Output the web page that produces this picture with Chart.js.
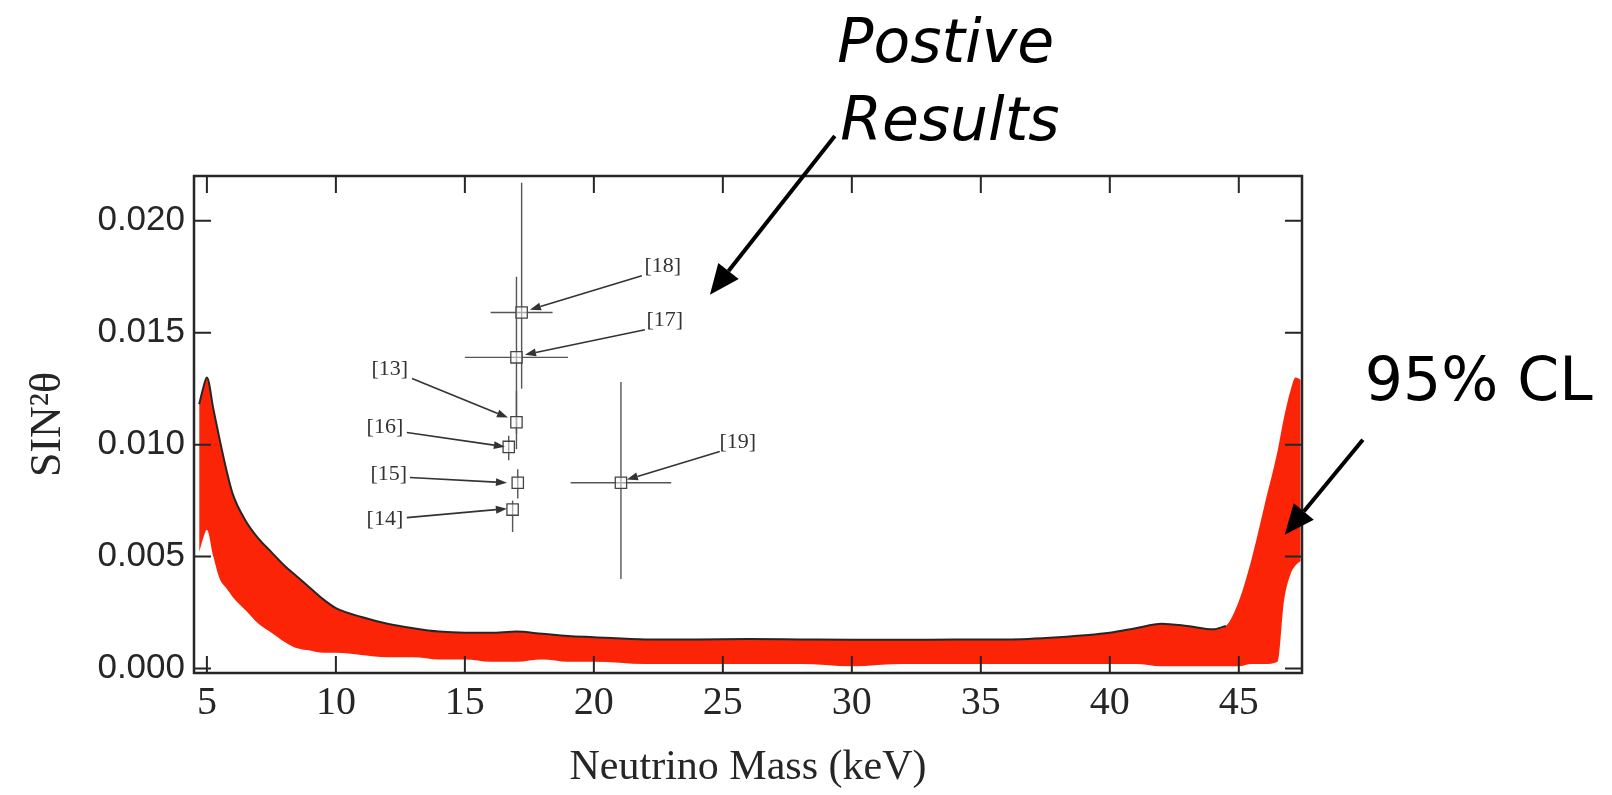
<!DOCTYPE html>
<html>
<head>
<meta charset="utf-8">
<script src="https://cdn.jsdelivr.net/npm/chart.js@4.4.0/dist/chart.umd.min.js"></script>
<style>
  html, body { margin: 0; padding: 0; background: #fff; }
  #wrap { width: 1612px; height: 795px; position: relative; }
</style>
</head>
<body>
<div id="wrap"><canvas id="chart"></canvas></div>
<script>
// 95% CL excluded region, upper (black curve) and lower (ragged red edge), same mass grid
const bandMass  = [4.7, 4.85, 5.0, 5.25, 5.5, 5.75, 6.0, 6.5, 7, 7.5, 8, 8.5, 9, 9.5, 10, 11, 12, 13, 14, 15, 16, 17, 18, 19, 20, 22, 24, 26, 28, 30, 32, 34, 36, 38, 40, 41, 42, 43, 44, 44.5, 45, 45.5, 46, 46.5, 46.75, 47, 47.2, 47.4];
const bandUpper = [0.0118, 0.0125, 0.0130, 0.0116, 0.0102, 0.0089, 0.0078, 0.0066, 0.0058, 0.0052, 0.0046, 0.0041, 0.0036, 0.0031, 0.0027, 0.0023, 0.0020, 0.0018, 0.00165, 0.0016, 0.0016, 0.00165, 0.00155, 0.00145, 0.0014, 0.0013, 0.0013, 0.00132, 0.0013, 0.00128, 0.00128, 0.0013, 0.0013, 0.0014, 0.0016, 0.0018, 0.0020, 0.0019, 0.00175, 0.0019, 0.0030, 0.0049, 0.0073, 0.0097, 0.0112, 0.0124, 0.0130, 0.0129];
const bandLower = [0.0052, 0.0058, 0.0062, 0.0050, 0.0040, 0.0036, 0.0032, 0.0026, 0.0020, 0.0016, 0.0012, 0.0009, 0.0008, 0.0007, 0.0007, 0.0006, 0.0005, 0.0005, 0.0004, 0.0004, 0.0003, 0.0003, 0.0004, 0.0003, 0.0003, 0.0002, 0.0002, 0.0002, 0.0002, 0.0001, 0.0002, 0.0002, 0.0002, 0.0002, 0.0002, 0.0002, 0.0001, 0.0001, 0.0001, 0.0001, 0.0001, 0.0002, 0.0002, 0.0003, 0.0030, 0.0042, 0.0046, 0.0048];
// the black limit curve is drawn up to where the steep red edge takes over
const curveEndMass = 44.6;

// positive claims
const pointNames = ['[13]', '[14]', '[15]', '[16]', '[17]', '[18]', '[19]'];
const pointMass  = [17.0, 16.85, 17.05, 16.7, 17.0, 17.2, 21.05];
const pointSin2  = [0.0110, 0.0071, 0.0083, 0.0099, 0.0139, 0.0159, 0.0083];
const xErrLow    = [null, null, null, null, 15.0, 16.0, 19.1];
const xErrHigh   = [null, null, null, null, 19.0, 18.4, 23.0];
const yErrLow    = [0.0105, 0.0061, 0.0076, 0.0093, 0.0098, 0.0125, 0.0040];
const yErrHigh   = [0.0124, 0.0075, 0.0089, 0.0104, 0.0175, 0.0217, 0.0128];

// reference labels and their leader arrows
const labelMass     = [12.09, 11.90, 12.05, 11.90, 22.75, 22.67, 25.58];
const labelSin2     = [0.01335, 0.00665, 0.00866, 0.01076, 0.01558, 0.01795, 0.01013];
const leaderFromMass = [12.95, 12.75, 12.87, 12.75, 21.98, 21.86, 24.88];
const leaderFromSin2 = [0.01295, 0.00674, 0.00853, 0.01054, 0.01513, 0.01754, 0.00969];
const leaderToMass   = [16.67, 16.63, 16.63, 16.55, 17.33, 17.52, 21.28];
const leaderToSin2   = [0.01121, 0.00714, 0.00830, 0.00991, 0.01402, 0.01603, 0.00844];

// hand-written notes
const noteText = ['Postive', 'Results', '95% CL'];
const noteMass = [33.64, 33.80, 54.30];
const noteSin2 = [0.02710, 0.02362, 0.01201];
const bigArrowFromMass = [29.34, 49.81];
const bigArrowFromSin2 = [0.02379, 0.01022];
const bigArrowToMass   = [24.50, 46.78];
const bigArrowToSin2   = [0.01670, 0.00598];

const xTicks = [5, 10, 15, 20, 25, 30, 35, 40, 45];
const yTicks = [0, 0.005, 0.010, 0.015, 0.020];

const INK = '#262626';
const RED = 'rgb(252, 36, 6)';

function xy(xs, ys) {
    return xs.map((x, i) => ({x: x, y: ys[i]}));
}

const upperPts = xy(bandMass, bandUpper);

const datasets = [
    {
        type: 'line', data: xy(bandMass, bandLower),
        borderWidth: 0, pointRadius: 0, fill: false, order: 10,
        cubicInterpolationMode: 'monotone'
    },
    {
        type: 'line', data: upperPts,
        borderWidth: 0, borderColor: RED, pointRadius: 0,
        fill: '-1', backgroundColor: RED, order: 10,
        cubicInterpolationMode: 'monotone'
    },
    {
        type: 'line', data: upperPts.filter(p => p.x <= curveEndMass),
        borderColor: INK, borderWidth: 2, pointRadius: 0, fill: false, order: 9,
        cubicInterpolationMode: 'monotone'
    }
];

// error bars, one little line each
pointMass.forEach((m, i) => {
    if (xErrLow[i] !== null) {
        datasets.push({
            type: 'line', data: [{x: xErrLow[i], y: pointSin2[i]}, {x: xErrHigh[i], y: pointSin2[i]}],
            borderColor: '#555', borderWidth: 1.4, pointRadius: 0, fill: false, order: 5
        });
    }
    datasets.push({
        type: 'line', data: [{x: m, y: yErrLow[i]}, {x: m, y: yErrHigh[i]}],
        borderColor: '#555', borderWidth: 1.4, pointRadius: 0, fill: false, order: 5
    });
});

datasets.push({
    type: 'scatter', data: xy(pointMass, pointSin2),
    pointStyle: 'rect', pointRadius: 8,
    backgroundColor: 'rgba(255,255,255,0.5)', borderColor: '#444', borderWidth: 1.3,
    order: 0
});

function arrow(ctx, x0, y0, x1, y1, len, half, width) {
    const a = Math.atan2(y1 - y0, x1 - x0);
    const bx = x1 - len * Math.cos(a), by = y1 - len * Math.sin(a);
    ctx.lineWidth = width;
    ctx.beginPath();
    ctx.moveTo(x0, y0);
    ctx.lineTo(bx, by);
    ctx.stroke();
    ctx.beginPath();
    ctx.moveTo(x1, y1);
    ctx.lineTo(bx + half * Math.sin(a), by - half * Math.cos(a));
    ctx.lineTo(bx - half * Math.sin(a), by + half * Math.cos(a));
    ctx.closePath();
    ctx.fill();
}

const framePlugin = {
    id: 'frame',
    afterDraw(chart) {
        const {ctx, chartArea: a, scales: {x, y}} = chart;
        const tick = 17;
        ctx.save();
        ctx.strokeStyle = INK;
        ctx.fillStyle = INK;

        // box
        ctx.lineWidth = 2.5;
        ctx.strokeRect(a.left, a.top, a.right - a.left, a.bottom - a.top);

        // inward ticks on all four sides
        ctx.lineWidth = 2;
        ctx.beginPath();
        x.ticks.forEach(t => {
            const px = x.getPixelForValue(t.value);
            ctx.moveTo(px, a.bottom); ctx.lineTo(px, a.bottom - tick);
            ctx.moveTo(px, a.top); ctx.lineTo(px, a.top + tick);
        });
        y.ticks.forEach(t => {
            const py = y.getPixelForValue(t.value);
            ctx.moveTo(a.left, py); ctx.lineTo(a.left + tick, py);
            ctx.moveTo(a.right, py); ctx.lineTo(a.right - tick, py);
        });
        ctx.stroke();

        // reference labels with leader arrows
        ctx.strokeStyle = '#333';
        ctx.fillStyle = '#333';
        labelMass.forEach((m, i) => {
            arrow(ctx,
                x.getPixelForValue(leaderFromMass[i]), y.getPixelForValue(leaderFromSin2[i]),
                x.getPixelForValue(leaderToMass[i]), y.getPixelForValue(leaderToSin2[i]),
                11, 4, 1.6);
        });
        ctx.font = '22px "Liberation Serif"';
        ctx.textAlign = 'center';
        ctx.textBaseline = 'middle';
        pointNames.forEach((n, i) => {
            ctx.fillText(n, x.getPixelForValue(labelMass[i]), y.getPixelForValue(labelSin2[i]));
        });

        // hand-written notes
        ctx.strokeStyle = '#000';
        ctx.fillStyle = '#000';
        bigArrowFromMass.forEach((m, i) => {
            arrow(ctx,
                x.getPixelForValue(m), y.getPixelForValue(bigArrowFromSin2[i]),
                x.getPixelForValue(bigArrowToMass[i]), y.getPixelForValue(bigArrowToSin2[i]),
                30, 13, 4);
        });
        ctx.textBaseline = 'alphabetic';
        noteText.forEach((s, i) => {
            ctx.font = (i < 2 ? 'italic ' : '') + '60px "DejaVu Sans"';
            ctx.fillText(s, x.getPixelForValue(noteMass[i]), y.getPixelForValue(noteSin2[i]));
        });
        ctx.restore();
    }
};

new Chart(document.getElementById('chart'), {
    type: 'scatter',
    data: {datasets: datasets},
    options: {
        responsive: true,
        maintainAspectRatio: false,
        animation: false,
        layout: {padding: {top: 176, right: 310, bottom: 0, left: 0}},
        plugins: {legend: {display: false}, tooltip: {enabled: false}},
        scales: {
            x: {
                type: 'linear', min: 4.5, max: 47.45,
                afterBuildTicks: s => { s.ticks = xTicks.map(v => ({value: v})); },
                afterFit: s => { s.height = 122; },
                grid: {display: false, drawTicks: false},
                border: {display: false},
                ticks: {
                    padding: 6, color: INK,
                    font: {family: '"Liberation Serif"', size: 40},
                    maxRotation: 0
                },
                title: {
                    display: true, text: 'Neutrino Mass (keV)', color: INK,
                    font: {family: '"Liberation Serif"', size: 42, lineHeight: 1.2},
                    padding: {top: 0, bottom: 2}
                }
            },
            y: {
                type: 'linear', min: -0.0002, max: 0.022,
                afterBuildTicks: s => { s.ticks = yTicks.map(v => ({value: v})); },
                afterFit: s => { s.width = 194; },
                grid: {display: false, drawTicks: false},
                border: {display: false},
                ticks: {
                    padding: 9, color: INK,
                    font: {family: '"Liberation Sans"', size: 35},
                    callback: v => v.toFixed(3)
                },
                title: {
                    display: true, text: 'SIN²θ', color: INK,
                    font: {family: '"Liberation Serif"', size: 44, lineHeight: 1.2},
                    padding: {top: 22, bottom: 0}
                }
            }
        }
    },
    plugins: [framePlugin]
});
</script>
</body>
</html>
